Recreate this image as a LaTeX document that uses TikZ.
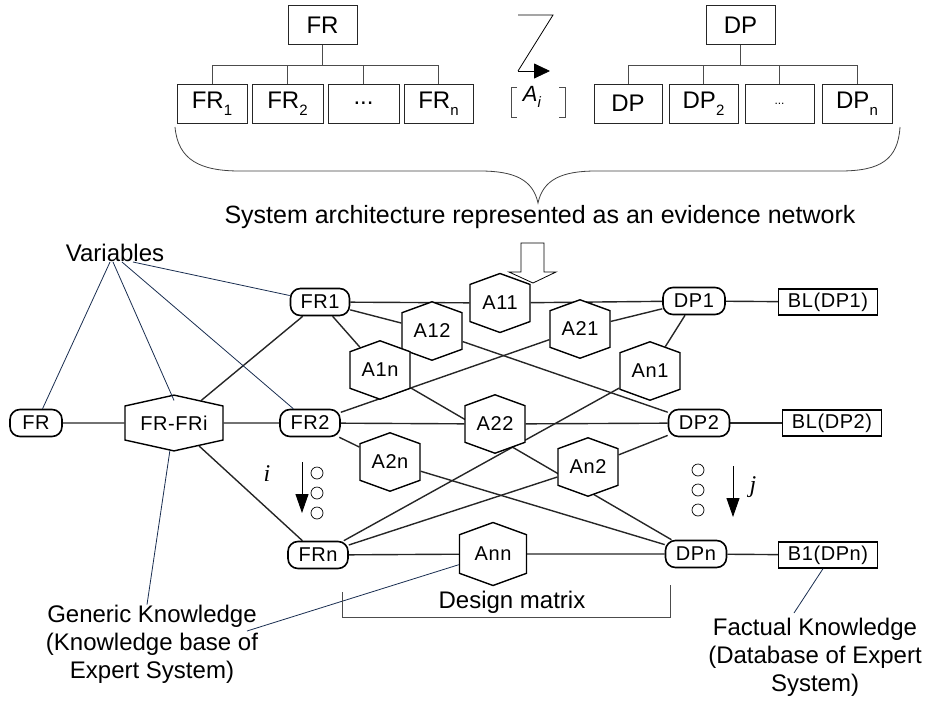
\documentclass[tikz,border=0pt]{standalone}
\usepackage{fontspec}
\setmainfont{Liberation Sans}
\newfontfamily\nodefont[LetterSpace=3]{Liberation Sans}
\newfontfamily\serifit{Liberation Serif}
\usetikzlibrary{shapes.symbols,arrows.meta,backgrounds}
\definecolor{navy}{RGB}{25,45,80}
\newcommand\sbs[1]{\raisebox{-0.3em}{\fontsize{15}{15}\selectfont #1}}
\begin{document}
\begin{tikzpicture}[x=1pt,y=-1pt,
  topbox/.style={draw=black!85, line width=0.9pt, minimum height=39pt, inner sep=0pt, font=\fontsize{24}{24}\selectfont},
  tree/.style={draw=black!70, line width=0.8pt},
  varnode/.style={draw=black, line width=1.6pt, rounded corners=10pt, fill=white, minimum height=27pt, inner sep=0pt, font=\nodefont\fontsize{20}{20}\selectfont},
  hexnode/.style={shape=signal, signal to=north and south, signal pointer angle=140, draw=black, line width=1.4pt, fill=white, minimum width=60pt, minimum height=50pt, inner sep=0pt, font=\nodefont\fontsize{20}{20}\selectfont},
  blbox/.style={draw=black, line width=1.4pt, fill=white, minimum width=99pt, minimum height=26pt, inner sep=0pt, font=\nodefont\fontsize{20}{20}\selectfont},
  netedge/.style={line width=1.4pt, draw=black!85},
  lead/.style={line width=0.8pt, draw=navy},
  lbl/.style={font=\fontsize{24}{28}\selectfont, align=center, inner sep=0pt},
  dot/.style={draw=black, line width=0.7pt, circle, minimum size=12pt, inner sep=0pt},
  darrow/.style={line width=0.9pt, -{Triangle[length=19pt,width=13pt]}}
]
\useasboundingbox (0,0) rectangle (930,702);

% ---------- top: FR tree ----------
\node[topbox, minimum width=69pt] (FRt) at (322.5,25) {FR};
\node[topbox, minimum width=70pt] (FRa) at (212,103.5) {FR\sbs{1}};
\node[topbox, minimum width=71pt] (FRb) at (287.5,103.5) {FR\sbs{2}};
\node[topbox, minimum width=71pt] (FRc) at (363.5,103.5) {...};
\node[topbox, minimum width=69pt] (FRd) at (438.5,103.5) {FR\sbs{n}};
\coordinate (barF) at (0,65);
\draw[tree] (FRt) -- (FRt |- barF);
\draw[tree] (FRa.north |- barF) -- (FRd.north |- barF);
\foreach \c in {FRa,FRb,FRc,FRd} \draw[tree] (\c.north) -- (\c.north |- barF);

% ---------- top: DP tree ----------
\node[topbox, minimum width=69pt] (DPt) at (740.5,25) {DP};
\node[topbox, minimum width=68pt] (DPa) at (628,103.5) {DP};
\node[topbox, minimum width=69pt] (DPb) at (703.5,103.5) {DP\sbs{2}};
\node[topbox, minimum width=69pt, font=\fontsize{12}{12}\selectfont] (DPc) at (779.5,103.5) {...};
\node[topbox, minimum width=70pt] (DPd) at (857,103.5) {DP\sbs{n}};
\draw[tree] (DPt) -- (DPt |- barF);
\draw[tree] (DPa.north |- barF) -- (DPd.north |- barF);
\foreach \c in {DPa,DPb,DPc,DPd} \draw[tree] (\c.north) -- (\c.north |- barF);

% ---------- A_i with Z arrow ----------
\draw[line width=0.8pt] (518,15) -- (553,15) -- (518,71);
\draw[line width=0.8pt, -{Triangle[length=16pt,width=15pt]}] (518,71) -- (550,71);
\node[font=\fontsize{22}{22}\selectfont, inner sep=0pt] (Ai) at (532,97) {\textit{A}\sbs{\textit{i}}};
\draw[line width=0.8pt, black!70] (517,87) -- (511,87) -- (511,117) -- (517,117);
\draw[line width=0.8pt, black!70] (559,87) -- (565,87) -- (565,117) -- (559,117);

% ---------- brace and caption ----------
\draw[line width=0.8pt, black!75] (175,127) .. controls (178,160) and (200,171) .. (240,171) -- (480,171) .. controls (515,171) and (533,180) .. (538,203) .. controls (543,180) and (561,171) .. (596,171) -- (840,171) .. controls (880,171) and (898,160) .. (900,127);
\node[lbl, font=\fontsize{25}{28}\selectfont] (sys) at (540,217) {System architecture represented as an evidence network};

% ---------- hollow arrow ----------
\draw[line width=0.8pt, fill=white] (521,243) -- (544,243) -- (544,272) -- (556,272) -- (533,283) -- (509,272) -- (521,272) -- cycle;

% ---------- network nodes ----------
\node[varnode, minimum width=52pt] (FR) at (36,423) {FR};
\node[hexnode, minimum width=98pt, minimum height=49pt, signal pointer angle=155] (FRFRi) at (174,423) {FR-FRi};
\node[varnode, minimum width=59pt] (FR1) at (320,302) {FR1};
\node[varnode, minimum width=60pt] (FR2) at (310,423) {FR2};
\node[varnode, minimum width=60pt] (FRn) at (318,555) {FRn};
\node[varnode, minimum width=62pt] (DP1) at (694,301) {DP1};
\node[varnode, minimum width=61pt] (DP2) at (699,423) {DP2};
\node[varnode, minimum width=61pt] (DPn) at (696,554) {DPn};

\node[hexnode] (A11) at (500,303) {A11};
\node[hexnode] (A12) at (432,331) {A12};
\node[hexnode] (A21) at (580,329) {A21};
\node[hexnode] (A1n) at (380,370) {A1n};
\node[hexnode] (An1) at (650,371) {An1};
\node[hexnode] (A22) at (495,424) {A22};
\node[hexnode] (A2n) at (390,462) {A2n};
\node[hexnode] (An2) at (588,467) {An2};
\node[hexnode, minimum width=67pt, minimum height=52pt] (Ann) at (493,554) {Ann};

\node[blbox] (BL1) at (828,302) {BL(DP1)};
\node[blbox] (BL2) at (832,423) {BL(DP2)};
\node[blbox] (BLn) at (828,555) {B1(DPn)};

% ---------- network edges ----------
\begin{scope}[on background layer]
\draw[netedge] (FR) -- (FRFRi);
\draw[netedge] (FRFRi) -- (FR2);
\draw[netedge] (FRFRi) -- (FR1);
\draw[netedge] (FRFRi) -- (FRn);
\draw[netedge] (FR1) -- (A11);
\draw[netedge] (A11) -- (DP1);
\draw[netedge] (FR1) -- (A12);
\draw[netedge] (A12) -- (DP2);
\draw[netedge] (FR1) -- (A1n);
\draw[netedge] (A1n) -- (DPn);
\draw[netedge] (FR2) -- (A21);
\draw[netedge] (A21) -- (DP1);
\draw[netedge] (FR2) -- (A22);
\draw[netedge] (A22) -- (DP2);
\draw[netedge] (FR2) -- (A2n);
\draw[netedge] (A2n) -- (DPn);
\draw[netedge] (FRn) -- (An1);
\draw[netedge] (An1) -- (DP1);
\draw[netedge] (FRn) -- (An2);
\draw[netedge] (An2) -- (DP2);
\draw[netedge] (FRn) -- (Ann);
\draw[netedge] (Ann) -- (DPn);
\draw[netedge] (DP1) -- (BL1);
\draw[netedge] (DP2) -- (BL2);
\draw[netedge] (DPn) -- (BLn);
\end{scope}

% ---------- i / j indicators ----------
\node[font=\serifit\itshape\fontsize{24}{24}\selectfont, inner sep=0pt] (ilbl) at (267,474) {i};
\coordinate (iA) at (302,462); \coordinate (iB) at (302,513);
\draw[darrow] (iA) -- (iB);
\node[dot] (c1) at (317,473) {};
\node[dot] (c2) at (317,493) {};
\node[dot] (c3) at (317,513) {};
\node[font=\serifit\itshape\fontsize{24}{24}\selectfont, inner sep=0pt] (jlbl) at (753,487) {j};
\coordinate (jA) at (733,466); \coordinate (jB) at (733,517);
\draw[darrow] (jA) -- (jB);
\node[dot] (d1) at (698,470) {};
\node[dot] (d2) at (698,490) {};
\node[dot] (d3) at (698,510) {};

% ---------- labels ----------
\node[lbl] (Var) at (115,253) {Variables};
\draw[lead] ([xshift=-5pt]Var.south) -- (FR);
\draw[lead] ([xshift=-2pt]Var.south) -- ([yshift=-6pt]FRFRi.north);
\draw[lead] ([xshift=7pt]Var.south) -- (FR2);
\draw[lead] ([xshift=18pt]Var.south) -- (FR1);

\node[lbl] (GK) at (152,644) {Generic Knowledge\\(Knowledge base of\\Expert System)};
\coordinate (gkA) at (247,631);
\draw[lead] (FRFRi) -- ([xshift=-5pt]GK.north);
\draw[lead] (Ann) -- (gkA);

\node[lbl] (DM) at (512,602) {Design matrix};
\draw[line width=0.8pt, black!70] (342,592) -- (342,617) -- (670,617) -- (670,585);

\node[lbl] (FK) at (815,657) {Factual Knowledge\\(Database of Expert\\System)};
\coordinate (fkA) at (794,613);
\draw[lead] ([xshift=-5pt]BLn.south) -- (fkA);
\end{tikzpicture}
\end{document}
